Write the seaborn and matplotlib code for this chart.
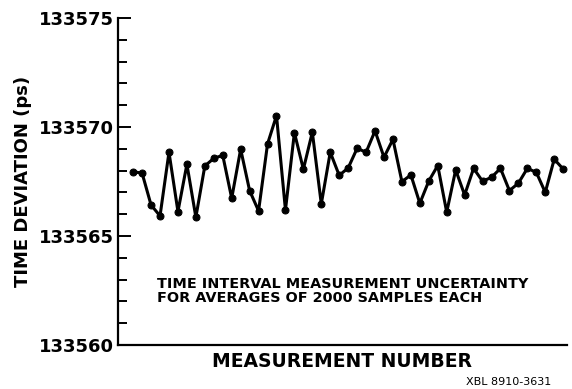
import numpy as np
import pandas as pd
import matplotlib
matplotlib.use("Agg")
import matplotlib.pyplot as plt
from matplotlib.ticker import MultipleLocator
import seaborn as sns

measurement = list(range(1, 50))
time_deviation = [
    133567.95, 133567.88, 133566.42, 133565.92, 133568.84, 133566.12, 133568.29,
    133565.86, 133568.21, 133568.56, 133568.70, 133566.73, 133568.98, 133567.08,
    133566.15, 133569.22, 133570.52, 133566.19, 133569.74, 133568.06, 133569.76,
    133566.47, 133568.84, 133567.78, 133568.12, 133569.02, 133568.84, 133569.82,
    133568.61, 133569.43, 133567.49, 133567.80, 133566.50, 133567.52, 133568.23,
    133566.09, 133568.03, 133566.88, 133568.10, 133567.51, 133567.69, 133568.10,
    133567.08, 133567.42, 133568.10, 133567.92, 133567.00, 133568.52, 133568.07,
]
y_ticks = [133560, 133565, 133570, 133575]

df = pd.DataFrame({"n": measurement, "t": time_deviation})

sns.set_theme(style="ticks")
plt.rcParams["font.family"] = ["DejaVu Sans"]
plt.rcParams["text.color"] = "black"
plt.rcParams["axes.labelcolor"] = "black"
plt.rcParams["ytick.color"] = "black"

fig = plt.figure(figsize=(5.72, 3.89), dpi=100)
ax = fig.add_axes([0.206, 0.113, 0.785, 0.841])

sns.lineplot(data=df, x="n", y="t", ax=ax, color="black", linewidth=2.2,
             marker="o", markersize=5, markeredgecolor="black",
             markerfacecolor="black")

ax.set_ylim(133560, 133575)
ax.set_xlim(1 - 1.71, 49 + 0.41)
ax.set_yticks(y_ticks)
ax.set_yticklabels([str(v) for v in y_ticks], fontsize=13, fontweight="bold",
                   color="black")
ax.yaxis.set_minor_locator(MultipleLocator(1))
ax.tick_params(axis="y", which="major", direction="in", length=9.5, width=1.4,
               pad=3, colors="black")
ax.tick_params(axis="y", which="minor", direction="in", length=6.5, width=1.4,
               colors="black")
ax.set_xticks([])

for s in ["top", "right"]:
    ax.spines[s].set_visible(False)
for s in ["left", "bottom"]:
    ax.spines[s].set_linewidth(1.6)
    ax.spines[s].set_color("black")

ax.set_xlabel("MEASUREMENT NUMBER", fontsize=13.5, fontweight="bold",
              labelpad=5, color="black")
ax.set_ylabel("TIME DEVIATION (ps)", fontsize=13, fontweight="bold",
              labelpad=5, color="black")

fig.text(157 / 572, 1 - 291 / 389,
         "TIME INTERVAL MEASUREMENT UNCERTAINTY\nFOR AVERAGES OF 2000 SAMPLES EACH",
         fontsize=10.4, fontweight="bold", ha="left", va="center",
         linespacing=0.95, color="black")
fig.text(466 / 572, 1 - 387 / 389, "XBL 8910-3631", fontsize=8,
         ha="left", va="bottom", color="black")

fig.savefig("out.png", dpi=100)
